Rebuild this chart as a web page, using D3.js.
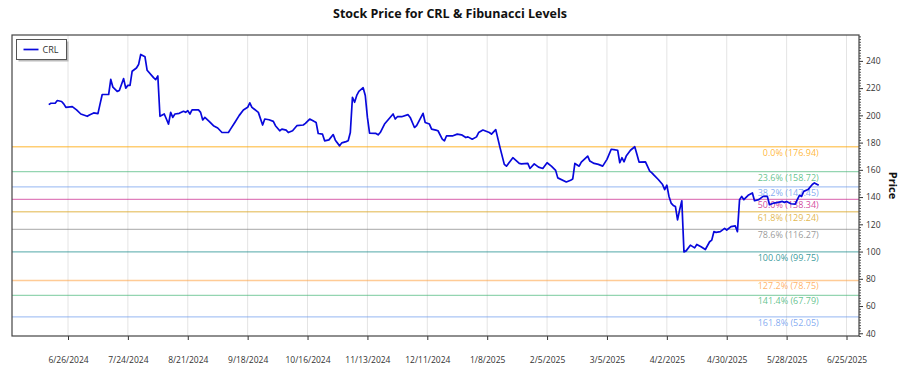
<!DOCTYPE html>
<html>
<head>
<meta charset="utf-8">
<script src="https://d3js.org/d3.v7.min.js"></script>
<style>
  body { margin: 0; background: #fff; }
  svg { font-family: "Open Sans", sans-serif; display: block; }
</style>
</head>
<body>
<div class="vis"></div>

<script>
  const ticker = "CRL";

  // closing prices (one line per month)
  const dates = [
    "2024-06-17","2024-06-18","2024-06-20","2024-06-21","2024-06-23","2024-06-24","2024-06-25","2024-06-28","2024-06-30",
    "2024-07-02","2024-07-05","2024-07-06","2024-07-08","2024-07-10","2024-07-11","2024-07-12","2024-07-15","2024-07-16","2024-07-17","2024-07-19","2024-07-20","2024-07-22","2024-07-23","2024-07-24","2024-07-25","2024-07-26","2024-07-28","2024-07-29","2024-07-30",
    "2024-08-01","2024-08-02","2024-08-05","2024-08-06","2024-08-07","2024-08-08","2024-08-10","2024-08-11","2024-08-12","2024-08-13","2024-08-14","2024-08-15","2024-08-17","2024-08-19","2024-08-20","2024-08-21","2024-08-22","2024-08-23","2024-08-26","2024-08-27","2024-08-28","2024-08-29","2024-08-31",
    "2024-09-02","2024-09-04","2024-09-06","2024-09-09","2024-09-10","2024-09-12","2024-09-14","2024-09-16","2024-09-18","2024-09-19","2024-09-20","2024-09-21","2024-09-23","2024-09-25","2024-09-26","2024-09-28","2024-09-30",
    "2024-10-01","2024-10-03","2024-10-04","2024-10-06","2024-10-07","2024-10-09","2024-10-11","2024-10-14","2024-10-15","2024-10-17","2024-10-19","2024-10-20","2024-10-21","2024-10-23","2024-10-24","2024-10-26","2024-10-28","2024-10-29","2024-10-31",
    "2024-11-01","2024-11-03","2024-11-04","2024-11-05","2024-11-06","2024-11-07","2024-11-08","2024-11-09","2024-11-11","2024-11-12","2024-11-13","2024-11-14","2024-11-17","2024-11-18","2024-11-19","2024-11-21","2024-11-23","2024-11-25","2024-11-26","2024-11-27","2024-11-29",
    "2024-12-02","2024-12-03","2024-12-05","2024-12-06","2024-12-09","2024-12-10","2024-12-12","2024-12-13","2024-12-15","2024-12-16","2024-12-18","2024-12-19","2024-12-20","2024-12-23","2024-12-25","2024-12-27","2024-12-29","2024-12-30",
    "2025-01-01","2025-01-03","2025-01-04","2025-01-06","2025-01-09","2025-01-10","2025-01-12","2025-01-14","2025-01-16","2025-01-17","2025-01-20","2025-01-23","2025-01-24","2025-01-27","2025-01-28","2025-01-30",
    "2025-02-01","2025-02-03","2025-02-05","2025-02-07","2025-02-09","2025-02-10","2025-02-14","2025-02-16","2025-02-17","2025-02-18","2025-02-20","2025-02-21","2025-02-24","2025-02-25","2025-02-27",
    "2025-03-01","2025-03-03","2025-03-05","2025-03-07","2025-03-09","2025-03-10","2025-03-11","2025-03-12","2025-03-13","2025-03-14","2025-03-16","2025-03-18","2025-03-19","2025-03-20","2025-03-23","2025-03-25","2025-03-26","2025-03-27","2025-03-29","2025-03-31",
    "2025-04-01","2025-04-02","2025-04-03","2025-04-04","2025-04-05","2025-04-06","2025-04-07","2025-04-08","2025-04-09","2025-04-10","2025-04-11","2025-04-13","2025-04-15","2025-04-16","2025-04-18","2025-04-20","2025-04-22","2025-04-23","2025-04-24","2025-04-25","2025-04-27","2025-04-29","2025-04-30",
    "2025-05-02","2025-05-04","2025-05-05","2025-05-06","2025-05-07","2025-05-08","2025-05-10","2025-05-12","2025-05-13","2025-05-15","2025-05-17","2025-05-19","2025-05-20","2025-05-22","2025-05-24","2025-05-26","2025-05-27","2025-05-28","2025-05-30",
    "2025-06-01","2025-06-02","2025-06-03","2025-06-04","2025-06-05","2025-06-07","2025-06-09","2025-06-10","2025-06-12"
  ];
  const prices = [
    207.9,208.9,208.9,210.9,210.2,208.4,205.9,206.4,204.0,
    201.0,199.3,200.3,201.8,201.3,208.4,215.3,215.3,226.4,220.7,217.6,218.3,227.0,220.0,222.0,222.0,232.4,234.8,237.3,244.7,
    243.0,233.1,227.7,226.2,228.9,199.3,201.0,197.3,193.6,202.2,198.5,201.0,201.5,203.0,202.2,203.5,201.0,204.0,204.0,202.2,196.6,198.5,195.6,
    192.4,190.7,187.4,187.4,189.9,194.8,199.8,204.0,205.9,209.2,205.9,204.7,202.2,192.9,197.3,196.8,195.6,
    192.4,188.7,189.9,189.2,187.4,188.7,192.4,192.9,194.1,197.3,195.6,194.8,186.7,186.2,181.3,182.0,185.9,181.8,177.6,
    179.8,180.7,181.3,187.4,213.3,209.6,214.6,217.6,220.3,214.6,198.5,187.0,186.7,185.7,187.4,193.6,197.3,201.0,197.3,199.0,199.0,
    200.5,198.5,191.1,192.4,201.5,194.8,193.6,189.9,189.2,188.7,182.5,181.3,185.0,185.0,186.2,185.7,183.7,184.2,
    182.5,184.2,187.4,189.2,187.4,186.2,189.5,176.3,164.0,162.7,168.9,164.7,164.4,164.7,161.0,164.4,
    162.0,161.0,165.2,162.7,159.6,154.1,151.1,152.4,153.3,164.7,162.7,165.7,170.1,166.4,164.7,
    164.0,162.7,167.7,175.1,174.6,174.4,165.2,168.9,165.9,170.1,174.4,176.94,171.4,165.7,165.9,159.0,157.8,156.1,152.9,149.2,
    145.5,148.7,140.5,135.6,133.9,133.1,123.3,130.8,137.3,99.75,100.5,104.7,102.7,105.2,103.5,101.5,107.2,108.4,114.6,114.1,114.6,117.0,115.8,
    118.3,118.8,114.6,138.1,140.5,138.1,141.3,143.0,137.3,138.1,140.5,140.5,134.4,135.6,136.1,136.8,136.1,136.8,135.1,
    134.8,138.1,141.3,140.5,144.2,145.5,149.2,150.4,148.7
  ];

  // fibonacci retracement levels
  const fibPercents = [0, 23.6, 38.2, 50, 61.8, 78.6, 100, 127.2, 141.4, 161.8];
  const fibLevels = [176.94, 158.72, 147.45, 138.34, 129.24, 116.27, 99.75, 78.75, 67.79, 52.05];
  const fibColors = ["#ffa500", "#3cb371", "#6495ed", "#c71585", "#daa520", "#808080", "#008080", "#ffa040", "#3cb371", "#6495ed"];

  // tick labels
  const xTickLabels = ["6/26/2024","7/24/2024","8/21/2024","9/18/2024","10/16/2024","11/13/2024","12/11/2024",
    "1/8/2025","2/5/2025","3/5/2025","4/2/2025","4/30/2025","5/28/2025","6/25/2025"];
  const yTicks = [40, 60, 80, 100, 120, 140, 160, 180, 200, 220, 240];

  const width = 900, height = 375;
  const plotL = 12, plotR = 859, plotT = 35, plotB = 336;

  const parse = d3.timeParse("%Y-%m-%d");
  const parseTick = d3.timeParse("%m/%d/%Y");
  const data = dates.map((d, i) => ({ date: parse(d), price: prices[i] }));
  const tickDates = xTickLabels.map(parseTick);

  const x = d3.scaleTime()
    .domain([tickDates[0], tickDates[tickDates.length - 1]])
    .range([68, 846.5]);
  const y = d3.scaleLinear().domain([38, 259]).range([plotB, plotT]);

  const svg = d3.select(".vis").append("svg")
    .attr("width", width)
    .attr("height", height);

  svg.append("rect").attr("width", width).attr("height", height).attr("fill", "#fff");

  // title
  svg.append("text")
    .attr("x", 450).attr("y", 18)
    .attr("text-anchor", "middle")
    .attr("font-size", "12.5px").attr("font-weight", "bold")
    .attr("fill", "#111")
    .text(`Stock Price for ${ticker} & Fibunacci Levels`);

  // vertical grid
  svg.append("g").selectAll("line")
    .data(tickDates)
    .join("line")
    .attr("x1", d => x(d)).attr("x2", d => x(d))
    .attr("y1", plotT).attr("y2", plotB)
    .attr("stroke", "#e4e4e4");

  // fib lines + labels
  const fib = fibLevels.map((v, i) => ({ v, p: fibPercents[i], c: fibColors[i] }));
  svg.append("g").selectAll("line")
    .data(fib)
    .join("line")
    .attr("x1", plotL).attr("x2", plotR)
    .attr("y1", d => y(d.v)).attr("y2", d => y(d.v))
    .attr("stroke", d => d.c)
    .attr("stroke-opacity", 0.55)
    .attr("stroke-width", 1.3);

  const lastDate = data[data.length - 1].date;
  svg.append("g").selectAll("text")
    .data(fib)
    .join("text")
    .attr("x", x(lastDate))
    .attr("y", d => y(d.v) + 9)
    .attr("text-anchor", "end")
    .attr("font-size", "9px")
    .attr("fill", d => d.c)
    .attr("fill-opacity", 0.8)
    .text(d => `${d.p.toFixed(1)}% (${d.v.toFixed(2)})`);

  // price line
  const line = d3.line().x(d => x(d.date)).y(d => y(d.price));
  svg.append("path")
    .datum(data)
    .attr("d", line)
    .attr("fill", "none")
    .attr("stroke", "#0808dc")
    .attr("stroke-width", 1.7)
    .attr("stroke-linejoin", "round");

  // x axis
  const xAxis = svg.append("g")
    .attr("transform", `translate(0,${plotB})`)
    .call(d3.axisBottom(x).tickValues(tickDates)
      .tickFormat((d, i) => xTickLabels[i]).tickSize(4).tickPadding(17));
  xAxis.select(".domain").remove();
  xAxis.selectAll("line").attr("stroke", "#333");
  xAxis.selectAll("text").attr("font-size", "8.5px").attr("fill", "#333").attr("font-family", "Open Sans");

  // right y axis: minor then major ticks
  const minor = d3.range(38, 259, 2).filter(v => v % 20 !== 0);
  const yMinor = svg.append("g")
    .attr("transform", `translate(${plotR},0)`)
    .call(d3.axisRight(y).tickValues(minor).tickSize(2).tickFormat(""));
  yMinor.select(".domain").remove();
  yMinor.selectAll("line").attr("stroke", "#555");

  const yAxis = svg.append("g")
    .attr("transform", `translate(${plotR},0)`)
    .call(d3.axisRight(y).tickValues(yTicks).tickSize(4).tickPadding(3));
  yAxis.select(".domain").remove();
  yAxis.selectAll("line").attr("stroke", "#333");
  yAxis.selectAll("text").attr("font-size", "8.5px").attr("fill", "#333").attr("font-family", "Open Sans");

  svg.append("text")
    .attr("transform", `translate(889,${(plotT + plotB) / 2}) rotate(90)`)
    .attr("text-anchor", "middle")
    .attr("font-size", "11px").attr("font-weight", "bold")
    .attr("fill", "#111")
    .text("Price");

  // plot frame
  svg.append("rect")
    .attr("x", plotL).attr("y", plotT)
    .attr("width", plotR - plotL).attr("height", plotB - plotT)
    .attr("fill", "none")
    .attr("stroke", "#444")
    .attr("stroke-width", 1.2);

  // legend
  const lg = svg.append("g").attr("transform", "translate(16.5,39.5)");
  lg.append("rect").attr("x", 2).attr("y", 2).attr("width", 50).attr("height", 20).attr("fill", "#bbb");
  lg.append("rect").attr("width", 50).attr("height", 20).attr("fill", "#fff").attr("stroke", "#555");
  lg.append("line").attr("x1", 7).attr("x2", 22).attr("y1", 10).attr("y2", 10)
    .attr("stroke", "#0808dc").attr("stroke-width", 1.7);
  lg.append("text").attr("x", 26).attr("y", 13)
    .attr("font-size", "9px").attr("fill", "#333")
    .text(ticker);
</script>
</body>
</html>
